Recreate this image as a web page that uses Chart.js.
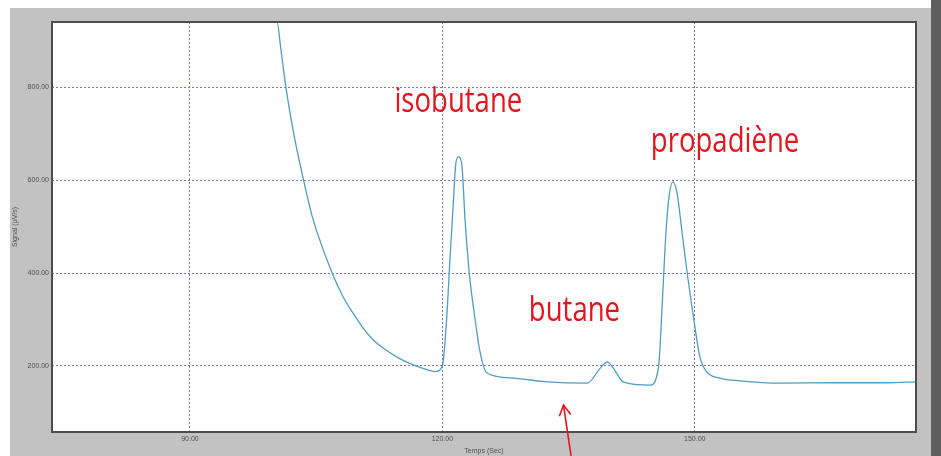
<!DOCTYPE html>
<html>
<head>
<meta charset="utf-8">
<script src="https://cdn.jsdelivr.net/npm/chart.js@4"></script>
<style>
  html, body { margin: 0; padding: 0; background: #ffffff; width: 941px; height: 456px; overflow: hidden; }
  #panel { position: absolute; left: 10px; top: 8px; width: 921px; height: 448px; background: #c2c2c2; }
  #strip { position: absolute; left: 931px; top: 0; width: 10px; height: 456px; background: #5e5e5e; }
  #c { position: absolute; left: 0; top: 0; }
</style>
</head>
<body>
<div id="panel"></div>
<div id="strip"></div>
<canvas id="c" width="941" height="456"></canvas>
<script>
// ---- data ----
const times = [73.6, 100.35, 100.8, 101.4, 102.3, 103.5, 104.5, 105.1, 106.9, 108.2, 109.4, 110.6, 111.8, 113.0, 114.8, 116.6, 117.7, 119.1, 120.0, 120.5, 120.9, 121.3, 121.6, 121.9, 122.3, 122.7, 123.2, 123.9, 124.5, 125.3, 128.4, 132.4, 137.2, 138.8, 139.6, 140.3, 141.5, 144.7, 145.7, 146.1, 146.5, 146.9, 147.4, 147.9, 148.5, 149.1, 149.9, 150.6, 151.4, 153.0, 155.4, 160.2, 166.5, 172.8, 176.3];
const signal = [940, 940, 882, 800, 703, 600, 524, 488, 400, 349, 313, 281, 256, 238, 217, 202, 195, 188, 200, 299, 428, 550, 636, 650, 636, 514, 400, 299, 228, 185, 174, 166, 163, 196, 209, 196, 166, 159, 198, 320, 464, 557, 596, 572, 486, 400, 299, 220, 188, 174, 168, 163, 164, 164, 166];
const xTickValues = [90, 120, 150];
const yTickValues = [200, 400, 600, 800];
const peakNames = ['isobutane', 'butane', 'propadiène'];
const xTitle = 'Temps (Sec)';
const yTitle = 'Signal (µV/s)';

// annotation placement (data units)
const annotationPlacement = [
  { x: 121.9, y: 746 },
  { x: 135.7, y: 297 },
  { x: 153.6, y: 660 }
];
const arrowPlacement = { tipX: 134.4, tipY: 116, tailX: 135.3, tailY: 6.7 };

const points = times.map((t, i) => ({ x: t, y: signal[i] }));

const decor = {
  id: 'decor',
  beforeDraw(chart) {
    const { ctx, chartArea: a } = chart;
    ctx.save();
    ctx.fillStyle = '#ffffff';
    ctx.fillRect(a.left, a.top, a.right - a.left, a.bottom - a.top);
    ctx.restore();
  },
  afterDraw(chart) {
    const { ctx, chartArea: a, scales } = chart;
    ctx.save();
    // frame
    ctx.strokeStyle = '#4d4d4d';
    ctx.lineWidth = 2;
    ctx.strokeRect(a.left, a.top, a.right - a.left, a.bottom - a.top);
    // labels
    ctx.fillStyle = '#e3141c';
    ctx.font = '34px "Open Sans"';
    ctx.textAlign = 'center';
    ctx.textBaseline = 'alphabetic';
    peakNames.forEach((name, i) => {
      const p = annotationPlacement[i];
      const px = scales.x.getPixelForValue(p.x);
      const py = scales.y.getPixelForValue(p.y);
      ctx.save();
      ctx.translate(px, py);
      ctx.scale(0.81, 1);
      ctx.fillText(name, 0, 0);
      ctx.restore();
    });
    // arrow
    const tx = scales.x.getPixelForValue(arrowPlacement.tipX);
    const ty = scales.y.getPixelForValue(arrowPlacement.tipY);
    const bx = scales.x.getPixelForValue(arrowPlacement.tailX);
    const by = scales.y.getPixelForValue(arrowPlacement.tailY);
    ctx.strokeStyle = '#e3141c';
    ctx.lineWidth = 1.6;
    ctx.beginPath();
    ctx.moveTo(bx, by);
    ctx.lineTo(tx, ty);
    ctx.stroke();
    const ang = Math.atan2(ty - by, tx - bx);
    const len = 12, spread = 0.5;
    ctx.beginPath();
    ctx.moveTo(tx - len * Math.cos(ang - spread), ty - len * Math.sin(ang - spread));
    ctx.lineTo(tx, ty);
    ctx.lineTo(tx - len * Math.cos(ang + spread), ty - len * Math.sin(ang + spread));
    ctx.stroke();
    ctx.restore();
  }
};

const tickFont = { family: 'Liberation Sans', size: 7 };

new Chart(document.getElementById('c'), {
  type: 'scatter',
  data: {
    datasets: [{
      data: points,
      showLine: true,
      borderColor: '#4f9dc0',
      borderWidth: 1.3,
      pointRadius: 0,
      cubicInterpolationMode: 'monotone',
      fill: false
    }]
  },
  options: {
    responsive: false,
    animation: false,
    devicePixelRatio: 1,
    layout: { padding: { top: 22, right: 25, left: 0, bottom: 0 } },
    plugins: { legend: { display: false }, tooltip: { enabled: false } },
    scales: {
      x: {
        type: 'linear',
        min: 73.6,
        max: 176.3,
        afterBuildTicks: s => { s.ticks = xTickValues.map(v => ({ value: v })); },
        afterFit: s => { s.height = 24; },
        ticks: { callback: v => Number(v).toFixed(2), font: tickFont, color: '#505050', padding: 3, maxRotation: 0 },
        grid: { color: '#7a7aa8', lineWidth: 1, drawTicks: false },
        border: { display: false, dash: [2, 2] },
        title: { display: true, text: xTitle, font: tickFont, color: '#505050', padding: { top: 0, bottom: 1 } }
      },
      y: {
        type: 'linear',
        min: 58,
        max: 940,
        afterBuildTicks: s => { s.ticks = yTickValues.map(v => ({ value: v })); },
        afterFit: s => { s.width = 52; },
        ticks: { callback: v => Number(v).toFixed(2), font: tickFont, color: '#505050', padding: 3 },
        grid: { color: '#7a7aa8', lineWidth: 1, drawTicks: false },
        border: { display: false, dash: [2, 2] },
        title: { display: true, text: yTitle, font: tickFont, color: '#505050', padding: { top: 11, bottom: 0 } }
      }
    }
  },
  plugins: [decor]
});
</script>
</body>
</html>
